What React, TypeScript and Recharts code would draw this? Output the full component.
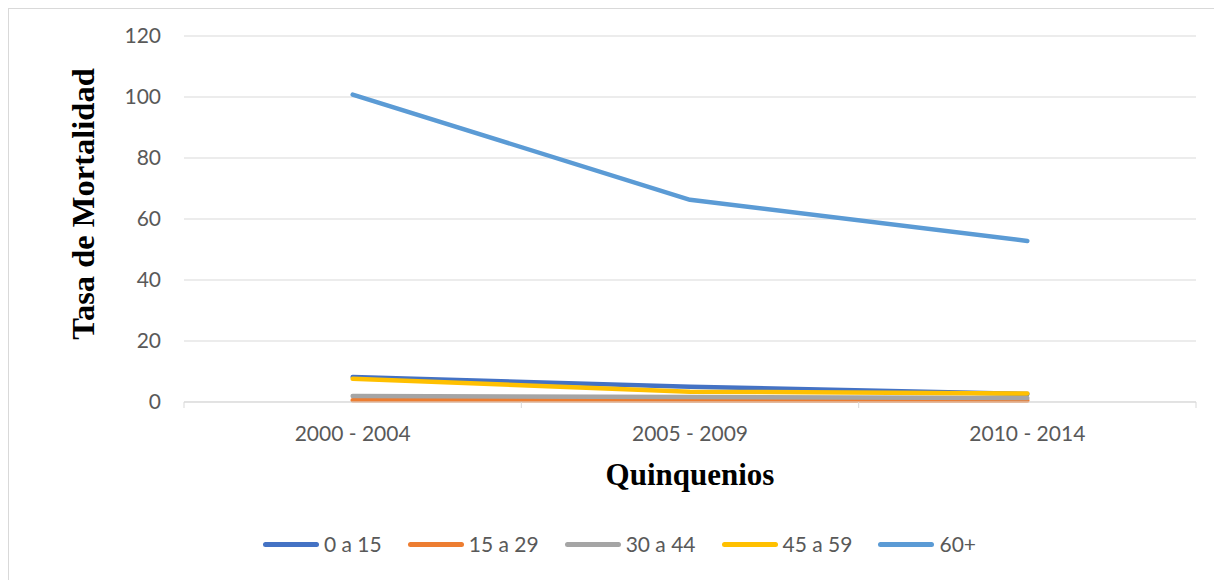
import React from 'react';
import { LineChart, Line, XAxis, YAxis, CartesianGrid } from 'recharts';

const categories = ['2000 - 2004', '2005 - 2009', '2010 - 2014'];
const serie0a15 = [8.2, 5.0, 2.6];
const serie15a29 = [0.6, 0.5, 0.5];
const serie30a44 = [2.0, 1.6, 1.3];
const serie45a59 = [7.6, 3.4, 2.8];
const serie60mas = [100.8, 66.3, 52.8];
const yTicks = [0, 20, 40, 60, 80, 100, 120];

const series = [
  { key: 's0', name: '0 a 15', values: serie0a15, color: '#4472C4' },
  { key: 's1', name: '15 a 29', values: serie15a29, color: '#ED7D31' },
  { key: 's2', name: '30 a 44', values: serie30a44, color: '#A5A5A5' },
  { key: 's3', name: '45 a 59', values: serie45a59, color: '#FFC000' },
  { key: 's4', name: '60+', values: serie60mas, color: '#5B9BD5' },
];

const data = categories.map((c, i) => {
  const row: Record<string, any> = { cat: c };
  series.forEach((s) => {
    row[s.key] = s.values[i];
  });
  return row;
});

const FONT = 'Lato, "Open Sans", sans-serif';
const W = 1215;
const H = 573;

const XTick = (props: any) => {
  const { x, y, payload, index, visibleTicksCount } = props;
  const off = payload && payload.offset != null ? payload.offset : 168.7;
  const last = index === (visibleTicksCount ?? categories.length) - 1;
  return (
    <g>
      <line x1={x - off} x2={x - off} y1={y} y2={y + 6} stroke="#d9d9d9" strokeWidth={1} />
      {last && <line x1={x + off} x2={x + off} y1={y} y2={y + 6} stroke="#d9d9d9" strokeWidth={1} />}
      <text x={x} y={y + 39} textAnchor="middle" fill="#595959" fontSize={21} fontFamily={FONT}>
        {payload.value}
      </text>
    </g>
  );
};

const XTitle = (props: any) => {
  const vb = props.viewBox || {};
  return (
    <text
      x={vb.x + vb.width / 2}
      y={vb.y + 83}
      textAnchor="middle"
      fontFamily='"Liberation Serif", "Times New Roman", serif'
      fontWeight="bold"
      fontSize={31}
      fill="#000"
    >
      Quinquenios
    </text>
  );
};

export default function App() {
  return (
    <div style={{ position: 'relative', width: W, height: H, marginLeft: -1, marginTop: -1, background: '#fff' }}>
      <div
        style={{
          position: 'absolute',
          left: 0,
          top: 0,
          width: W,
          height: H,
          borderLeft: '2px solid #d9d9d9',
          borderTop: '2px solid #d9d9d9',
          boxSizing: 'border-box',
          pointerEvents: 'none',
        }}
      />
      <LineChart width={W} height={H} data={data} margin={{ top: 29, right: 26, left: 0, bottom: 0 }}>
        <CartesianGrid vertical={false} stroke="#d9d9d9" strokeWidth={1} />
        <XAxis
          dataKey="cat"
          scale="band"
          height={178}
          tickSize={0}
          tickMargin={0}
          tickLine={false}
          axisLine={{ stroke: '#d9d9d9', strokeWidth: 1 }}
          tick={<XTick />}
          interval={0}
          label={<XTitle />}
        />
        <YAxis
          domain={[0, 120]}
          ticks={yTicks}
          width={177}
          axisLine={false}
          tickLine={false}
          tickMargin={17}
          tick={{ fill: '#595959', fontSize: 21, fontFamily: FONT }}
        />
        {series.map((s) => (
          <Line
            key={s.key}
            type="linear"
            dataKey={s.key}
            name={s.name}
            stroke={s.color}
            strokeWidth={4.5}
            strokeLinecap="round"
            strokeLinejoin="round"
            dot={false}
            activeDot={false}
            isAnimationActive={false}
          />
        ))}
        <text
          x={87}
          y={197}
          transform="rotate(-90 87 197)"
          textAnchor="middle"
          fontFamily='"Liberation Serif", "Times New Roman", serif'
          fontWeight="bold"
          fontSize={32.5}
          fill="#000"
        >
          Tasa de Mortalidad
        </text>
      </LineChart>
      <div
        style={{
          position: 'absolute',
          left: 0,
          top: 524,
          width: W,
          height: 26,
          display: 'flex',
          justifyContent: 'center',
          alignItems: 'center',
          fontFamily: FONT,
          fontSize: 21,
          color: '#595959',
          paddingLeft: 10,
          boxSizing: 'border-box',
        }}
      >
        {series.map((s, i) => (
          <div
            key={s.key}
            style={{ display: 'flex', alignItems: 'center', marginRight: i === series.length - 1 ? 0 : 26 }}
          >
            <div style={{ width: 56, height: 5, borderRadius: 3, background: s.color, marginRight: 5 }} />
            <span style={{ lineHeight: '26px' }}>{s.name}</span>
          </div>
        ))}
      </div>
    </div>
  );
}
